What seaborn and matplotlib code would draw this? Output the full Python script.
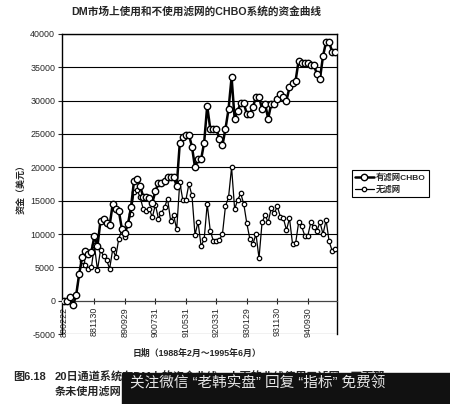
"""Equity curves of the CHBO system on DM, with and without filter."""

import numpy as np
import matplotlib
matplotlib.use("Agg")
import matplotlib.pyplot as plt
from matplotlib.patches import Rectangle
import seaborn as sns

# equity (USD), one value per period
with_filter = [
    0, 0, 500, -600, 800, 4000, 6600, 7500, 7000, 7300,
    9700, 8200, 12000, 12300, 11600, 11300, 14500, 13700, 13500, 10800,
    10200, 11500, 14000, 18000, 18300, 17200, 15600, 15500, 15400, 14700,
    16400, 17700, 17700, 17900, 18600, 18600, 18600, 17200, 23600, 24600,
    24800, 24900, 23100, 20000, 21200, 21200, 23700, 29200, 25800, 25800,
    25800, 24200, 23300, 25800, 28700, 33500, 27300, 28500, 29600, 29600,
    28000, 28000, 29000, 30600, 30600, 28700, 29500, 27300, 29500, 29500,
    30300, 31000, 30600, 30000, 32000, 32700, 33000, 36000, 35600, 35600,
    35600, 35400, 35300, 34000, 33300, 36700, 38800, 38800, 37300, 37300,
]
without_filter = [
    0, 0, 500, -600, 800, 4000, 6000, 5400, 4700, 5000,
    8300, 4600, 7600, 6700, 6100, 4800, 7700, 6600, 9300, 10600,
    9600, 11700, 13000, 16300, 16600, 15500, 13800, 13500, 13800, 12500,
    14400, 12300, 13200, 14000, 15300, 12000, 12800, 10700, 17800, 15100,
    15100, 17500, 15800, 9900, 11800, 8200, 9200, 14500, 10500, 9000,
    9000, 9100, 10000, 14200, 15500, 20000, 13750, 15100, 16100, 14500,
    11600, 9250, 8500, 10000, 6400, 11750, 12850, 11750, 13900, 13100,
    14150, 12600, 12350, 10600, 12350, 8500, 8600, 11750, 11150, 9750,
    9750, 11750, 11000, 10500, 11750, 10000, 12100, 8900, 7500, 7700,
]
tick_labels = ["880222", "881130", "890929", "900731", "910531",
               "920331", "930129", "931130", "940930"]
series_names = ["有滤网CHBO", "无滤网"]

sns.set_style("white")
plt.rcParams["font.family"] = ["Liberation Sans", "Noto Sans CJK SC"]

fig = plt.figure(figsize=(4.5, 4.04), dpi=100)
ax = fig.add_axes([0.138, 0.173, 0.611, 0.743])

idx = np.arange(len(with_filter))
sns.lineplot(x=idx, y=without_filter, ax=ax, color="black", lw=0.9,
             marker="o", ms=3.2, mfc="white", mec="black", mew=0.9,
             label=series_names[1], zorder=3)
sns.lineplot(x=idx, y=with_filter, ax=ax, color="black", lw=1.8,
             marker="o", ms=4.6, mfc="white", mec="black", mew=1.0,
             label=series_names[0], zorder=4)

ax.set_xlim(-0.6, len(with_filter) - 0.4)
ax.set_ylim(-5000, 40000)
ax.set_yticks(range(-5000, 40001, 5000))
ax.set_yticklabels([str(v) for v in range(-5000, 40001, 5000)])
ax.set_xticks(range(0, 10 * len(tick_labels), 10))
ax.set_xticklabels(tick_labels)

ax.yaxis.grid(True, color="black", lw=0.8)
ax.set_axisbelow(True)
for side in ["left", "top", "right"]:
    ax.spines[side].set_color("black")
    ax.spines[side].set_linewidth(1.0)
ax.spines["bottom"].set_position(("data", 0))
ax.spines["bottom"].set_color("#444444")
ax.spines["bottom"].set_linewidth(0.8)

ax.tick_params(axis="x", direction="inout", length=5, width=0.8,
               labelrotation=90, labelsize=6.4, pad=2, bottom=True)
ax.tick_params(axis="y", direction="out", length=3, width=0.8,
               labelsize=6.4, pad=2, left=True)
ax.set_xlabel("")
ax.set_ylabel("")

# legend outside, to the right
handles, labels = ax.get_legend_handles_labels()
order = [labels.index(n) for n in series_names]
leg = ax.legend([handles[i] for i in order], [labels[i] for i in order],
                loc="upper left", bbox_to_anchor=(0.782, 0.58),
                bbox_transform=fig.transFigure, borderaxespad=0,
                fancybox=False, edgecolor="black", framealpha=1,
                handlelength=2.2, handletextpad=0.3, borderpad=0.4,
                labelspacing=0.5, prop={"size": 6, "weight": "bold"})
leg.get_frame().set_linewidth(0.8)

fig.text(0.437, 0.972, "DM市场上使用和不使用滤网的CHBO系统的资金曲线",
         ha="center", va="center", fontsize=7.7, fontweight="bold")
fig.text(0.047, 0.537, "资金（美元）", rotation=90, ha="center",
         va="center", fontsize=6.5, fontweight="bold")
fig.text(0.438, 0.126, "日期（1988年2月～1995年6月）", ha="center",
         va="center", fontsize=6.4, fontweight="bold")

# caption and the overlay banner
fig.text(0.029, 0.066, "图6.18", ha="left", va="center",
         fontsize=8, fontweight="bold")
fig.text(0.122, 0.066, "20日通道系统在DM上的资金曲线，上面的曲线使用了滤网，下面那",
         ha="left", va="center", fontsize=8, fontweight="bold")
fig.text(0.122, 0.032, "条未使用滤网", ha="left", va="center",
         fontsize=8, fontweight="bold")
fig.add_artist(Rectangle((0.271, 0.0), 0.729, 0.077,
                         transform=fig.transFigure, color="#111111",
                         zorder=10))
fig.text(0.289, 0.052, "关注微信 “老韩实盘” 回复 “指标” 免费领",
         ha="left", va="center", fontsize=10.5, color="#e6e6e6",
         zorder=11)

fig.savefig("out.png", dpi=100)
